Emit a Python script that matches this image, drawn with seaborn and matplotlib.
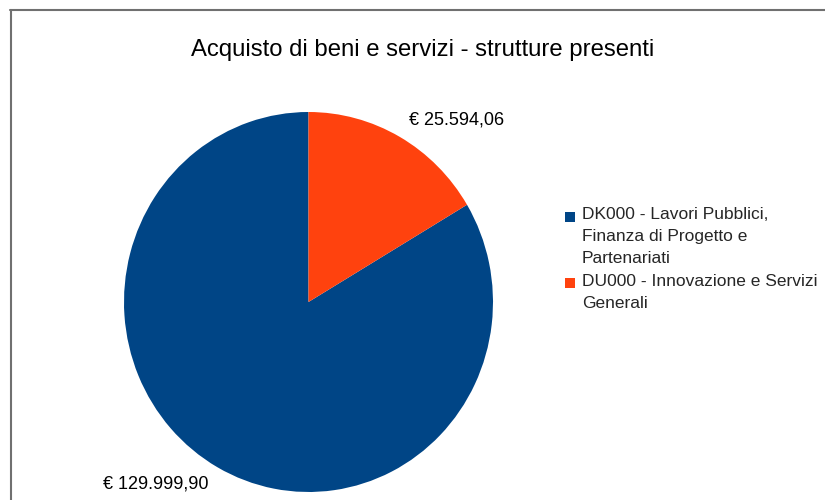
import matplotlib
matplotlib.use("Agg")
import matplotlib.pyplot as plt
from matplotlib.lines import Line2D
import seaborn as sns

sns.set_theme(style="white")
plt.rcParams["font.family"] = ["Liberation Sans", "DejaVu Sans"]

# data
categories = ["DK000 - Lavori Pubblici,\nFinanza di Progetto e\nPartenariati",
              "DU000 - Innovazione e Servizi\nGenerali"]
values = [129999.90, 25594.06]
value_labels = ["€ 129.999,90", "€ 25.594,06"]
colors = sns.color_palette(["#004586", "#ff420e"])

DPI = 100
fig = plt.figure(figsize=(8.25, 5), dpi=DPI)
fig.patch.set_facecolor("white")

# pie axes placed in pixel terms of the reference
ax = fig.add_axes([124 / 825, 8 / 500, 369 / 825, 380 / 500])
wedges, texts = ax.pie(values, labels=value_labels, colors=colors,
                       startangle=90, counterclock=True, labeldistance=1.1,
                       wedgeprops=dict(linewidth=0),
                       textprops=dict(fontsize=13, color="black"))
ax.set_aspect("auto")
ax.set_xlim(-1, 1)
ax.set_ylim(-1, 1)

fig.text(423 / 825, 1 - 50 / 500, "Acquisto di beni e servizi - strutture presenti",
         ha="center", va="center", fontsize=17.2, color="black")

leg = fig.legend(wedges, categories, loc="upper left",
                 bbox_to_anchor=(565 / 825, 1 - 207 / 500), frameon=False,
                 fontsize=12.5, handlelength=0.58, handleheight=0.58,
                 handletextpad=0.4, labelspacing=0.42, borderpad=0,
                 borderaxespad=0)
for t in leg.get_texts():
    t.set_linespacing(1.6)

# move each legend square up to the first line of its label
fig.canvas.draw()
renderer = fig.canvas.get_renderer()
for t, p in zip(leg.get_texts(), leg.get_patches()):
    tb = t.get_window_extent(renderer)
    n = t.get_text().count("\n") + 1
    first_mid = tb.y1 - tb.height / n / 2
    pb = p.get_window_extent(renderer)
    dy_px = first_mid - (pb.y0 + pb.y1) / 2
    p.set_y(p.get_y() + dy_px * 72 / DPI)

# chart frame lines (top and left)
fig.add_artist(Line2D([10 / 825, 1], [1 - 9.5 / 500, 1 - 9.5 / 500],
                      color="#707070", lw=1.5, transform=fig.transFigure))
fig.add_artist(Line2D([10.5 / 825, 10.5 / 825], [0, 1 - 9.5 / 500],
                      color="#707070", lw=1.5, transform=fig.transFigure))

fig.savefig("out.png", dpi=DPI)
plt.close(fig)
